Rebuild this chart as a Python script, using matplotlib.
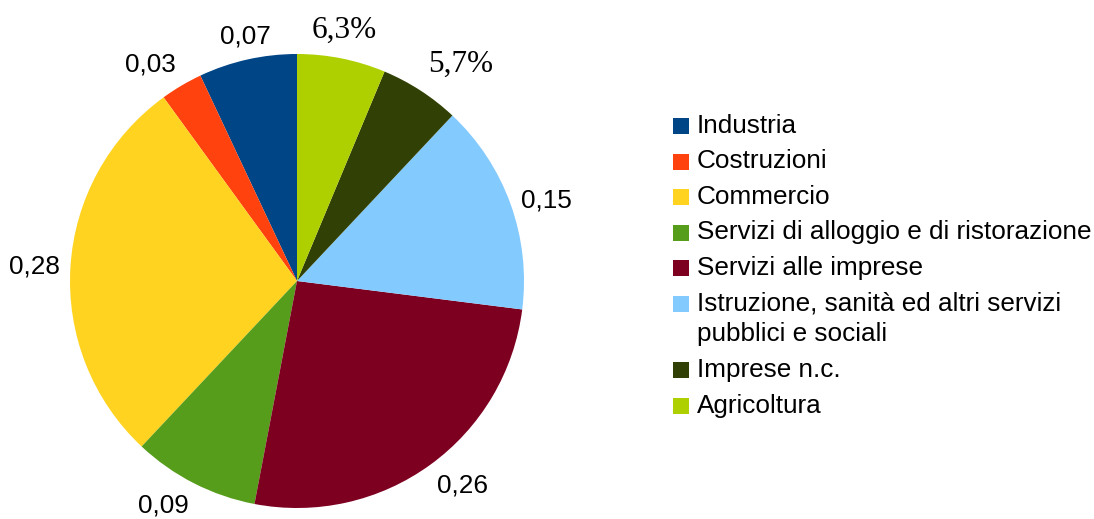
import numpy as np
import matplotlib.pyplot as plt
from matplotlib.patches import Rectangle

# quote per settore
categorie = [
    "Industria",
    "Costruzioni",
    "Commercio",
    "Servizi di alloggio e di ristorazione",
    "Servizi alle imprese",
    "Istruzione, sanità ed altri servizi\npubblici e sociali",
    "Imprese n.c.",
    "Agricoltura",
]
valori = [0.07, 0.03, 0.28, 0.09, 0.26, 0.15, 0.057, 0.063]
in_percentuale = [False, False, False, False, False, False, True, True]
colori = ["#004586", "#ff420e", "#ffd320", "#579d1c",
          "#7e0021", "#83caff", "#314004", "#aecf00"]

W, H = 1094, 519
sans = ["Liberation Sans", "DejaVu Sans"]
serif = ["Liberation Serif", "DejaVu Serif"]

fig = plt.figure(figsize=(W / 100, H / 100), dpi=100)
ax = fig.add_axes([0, 0, 1, 1])

cx, cy, R = 297, H - 281, 227
wedges, _ = ax.pie(valori, colors=colori, startangle=90, counterclock=True,
                   center=(cx, cy), radius=R,
                   wedgeprops=dict(linewidth=0, antialiased=True))
ax.set_xlim(0, W)
ax.set_ylim(0, H)
ax.set_aspect("equal")
ax.axis("off")


def allineamento(ang):
    # ancoraggio dell'etichetta a seconda del settore (ottanti da 45 gradi)
    ang = ang % 360
    if ang <= 22.5 or ang >= 337.5:
        return "left", "center"
    if ang < 67.5:
        return "left", "bottom"
    if ang < 112.5:
        return "center", "bottom"
    if ang <= 157.5:
        return "right", "bottom"
    if ang <= 202.5:
        return "right", "center"
    if ang < 247.5:
        return "right", "top"
    if ang < 292.5:
        return "center", "top"
    return "left", "top"


# etichette fuori dalla torta
for w, v, pct in zip(wedges, valori, in_percentuale):
    ang = (w.theta1 + w.theta2) / 2
    th = np.deg2rad(ang)
    ha, va = allineamento(ang)
    if pct:
        s = f"{v * 100:.1f}%".replace(".", ",")
        d = R + 14
        kw = dict(fontsize=22.5, family=serif)
    else:
        s = f"{v:.2f}".replace(".", ",")
        d = R + 11
        kw = dict(fontsize=18.8, family=sans)
    ax.text(cx + d * np.cos(th), cy + d * np.sin(th), s, ha=ha, va=va, **kw)

# legenda
y = H - 126
for nome, col in zip(categorie, colori):
    ax.add_patch(Rectangle((673, y - 8), 16, 16, color=col, lw=0))
    righe = nome.split("\n")
    for k, riga in enumerate(righe):
        ax.text(697, y - 31 * k, riga, va="center", ha="left",
                fontsize=18.8, family=sans)
    y -= 35.5 + 31 * (len(righe) - 1)

fig.savefig("out.png", dpi=100)
